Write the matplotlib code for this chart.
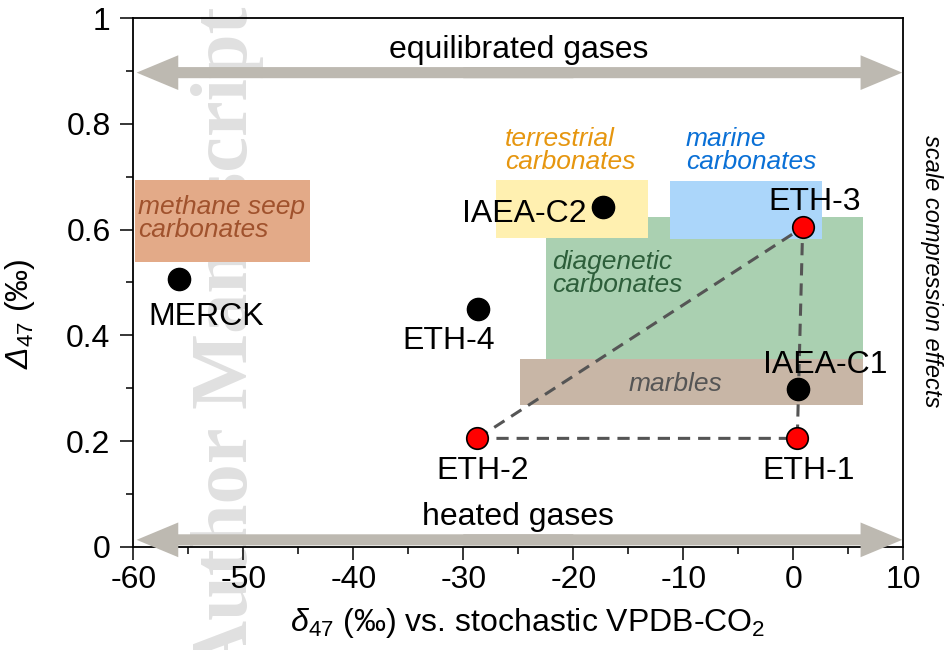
import matplotlib
matplotlib.use('Agg')
import matplotlib.pyplot as plt
from matplotlib.patches import Rectangle, FancyArrowPatch, ArrowStyle
from matplotlib.ticker import MultipleLocator, FuncFormatter

plt.rcParams['font.family'] = ['Liberation Sans', 'DejaVu Sans']
plt.rcParams['mathtext.fontset'] = 'custom'
plt.rcParams['mathtext.rm'] = 'Liberation Sans'
plt.rcParams['mathtext.it'] = 'Liberation Sans:italic'
plt.rcParams['mathtext.sf'] = 'Liberation Sans:italic'
plt.rcParams['axes.unicode_minus'] = False

# muestras medidas (puntos negros)
sample_names = ['MERCK', 'ETH-4', 'IAEA-C2', 'IAEA-C1']
sample_d47 = [-55.85, -28.7, -17.27, 0.45]
sample_D47 = [0.506, 0.449, 0.643, 0.298]

# estandares de anclaje (puntos rojos)
anchor_names = ['ETH-1', 'ETH-2', 'ETH-3']
anchor_d47 = [0.36, -28.73, 0.85]
anchor_D47 = [0.205, 0.205, 0.604]

# rangos tipicos de carbonatos naturales
box_names = ['diagenetic\ncarbonates', 'marbles', 'terrestrial\ncarbonates',
             'marine\ncarbonates', 'methane seep\ncarbonates']
box_d47_min = [-22.48, -24.85, -27.03, -11.21, -59.85]
box_d47_max = [6.31, 6.31, -13.21, 2.61, -43.94]
box_D47_min = [0.356, 0.269, 0.585, 0.583, 0.539]
box_D47_max = [0.624, 0.356, 0.694, 0.692, 0.694]

box_fill = ['#AAD0B1', '#C8B6A6', '#FFF0B0', '#ABD6FA', '#E3AA88']
box_text = ['#2D5E3A', '#555555', '#E6960F', '#0A70D6', '#A0522D']

fig = plt.figure(figsize=(9.46, 6.5), dpi=100)
ax = fig.add_axes([0.1409, 0.1589, 0.8140, 0.8131])
ax.patch.set_alpha(0)

# marca de agua vertical detras de todo
fig.text(0.261, 0.474, 'Author Manuscript', rotation=90, rotation_mode='anchor',
         ha='center', va='baseline', fontsize=58, fontweight='bold',
         family='Liberation Serif', color='#e0e0e0', zorder=-5)

for i in range(len(box_names)):
    ax.add_patch(Rectangle((box_d47_min[i], box_D47_min[i]),
                           box_d47_max[i] - box_d47_min[i],
                           box_D47_max[i] - box_D47_min[i],
                           facecolor=box_fill[i], edgecolor='none', zorder=1))

label_kw = dict(fontsize=19, style='italic', linespacing=0.95, zorder=2)
ax.text(-21.96, 0.561, box_names[0], color=box_text[0], ha='left', va='top', **label_kw)
ax.text(-10.7, 0.3135, box_names[1], color=box_text[1], ha='center', va='center_baseline', **label_kw)
ax.text(-26.2, 0.794, box_names[2], color=box_text[2], ha='left', va='top', **label_kw)
ax.text(-9.78, 0.794, box_names[3], color=box_text[3], ha='left', va='top', **label_kw)
ax.text(-59.56, 0.665, box_names[4], color=box_text[4], ha='left', va='top', **label_kw)

# triangulo entre los tres estandares ETH
tri_x = [anchor_d47[1], anchor_d47[2], anchor_d47[0], anchor_d47[1]]
tri_y = [anchor_D47[1], anchor_D47[2], anchor_D47[0], anchor_D47[1]]
ax.plot(tri_x, tri_y, color='#555555', lw=2.2, dashes=(4, 2.6), zorder=3)

ax.plot(sample_d47, sample_D47, 'o', color='black', ms=16, zorder=4, clip_on=False)
ax.plot(anchor_d47, anchor_D47, 'o', color='#FF0000', mec='black', mew=1.2,
        ms=15.5, zorder=4, clip_on=False)

offsets = {'MERCK': (19.8, -24.3, 'center'), 'ETH-4': (-20.7, -19.9, 'center'),
           'IAEA-C2': (-11.7, -2.4, 'right'), 'IAEA-C1': (19.2, 20.2, 'center'),
           'ETH-1': (8.4, -20.7, 'center'), 'ETH-2': (4.1, -20.7, 'center'),
           'ETH-3': (8.5, 21.1, 'center')}
names = sample_names + anchor_names
xs = sample_d47 + anchor_d47
ys = sample_D47 + anchor_D47
for n, x, y in zip(names, xs, ys):
    dx, dy, ha = offsets[n]
    ax.annotate(n, (x, y), xytext=(dx, dy), textcoords='offset points',
                ha=ha, va='center_baseline', fontsize=23, zorder=5)

# flechas de gases equilibrados y calentados (dos mitades solapadas)
arrow_style = ArrowStyle('Simple', head_length=30, head_width=25, tail_width=8)
for y in (0.897, 0.013):
    for x_start, x_end in ((-20, -59.7), (-30, 9.9)):
        ax.add_patch(FancyArrowPatch((x_start, y), (x_end, y), arrowstyle=arrow_style,
                                     mutation_scale=1, shrinkA=0, shrinkB=0,
                                     facecolor='#BDB9B1', edgecolor='none',
                                     zorder=6, clip_on=False))
ax.text(-25, 0.94, 'equilibrated gases', ha='center', va='center', fontsize=23, zorder=5)
ax.text(-25, 0.056, 'heated gases', ha='center', va='center', fontsize=23, zorder=5)

ax.text(1.036, 0.522, 'scale compression effects', transform=ax.transAxes,
        rotation=-90, ha='center', va='center', fontsize=17, style='italic')

ax.set_xlim(-60, 10)
ax.set_ylim(0, 1)
ax.xaxis.set_major_locator(MultipleLocator(10))
ax.xaxis.set_minor_locator(MultipleLocator(5))
ax.yaxis.set_major_locator(MultipleLocator(0.2))
ax.yaxis.set_minor_locator(MultipleLocator(0.1))
ax.yaxis.set_major_formatter(FuncFormatter(lambda v, p: f'{v:g}'))
ax.xaxis.set_major_formatter(FuncFormatter(lambda v, p: f'{v:g}'))
ax.tick_params(which='both', direction='out', width=1.1, top=False, right=False)
ax.tick_params(which='major', length=9.4, labelsize=23)
ax.tick_params(axis='x', which='major', pad=4)
ax.tick_params(axis='y', which='major', pad=7)
ax.tick_params(which='minor', length=5)
for s in ax.spines.values():
    s.set_linewidth(1.3)

ax.set_xlabel(r'$\mathsf{\delta}_{47}$ (‰) vs. stochastic VPDB-CO$_2$', fontsize=23)
ax.set_ylabel(r'$\mathsf{\Delta}_{47}$ (‰)', fontsize=23)
ax.xaxis.set_label_coords(0.512, -0.113)
ax.yaxis.set_label_coords(-0.125, 0.44)

fig.savefig('out.png', dpi=100)
